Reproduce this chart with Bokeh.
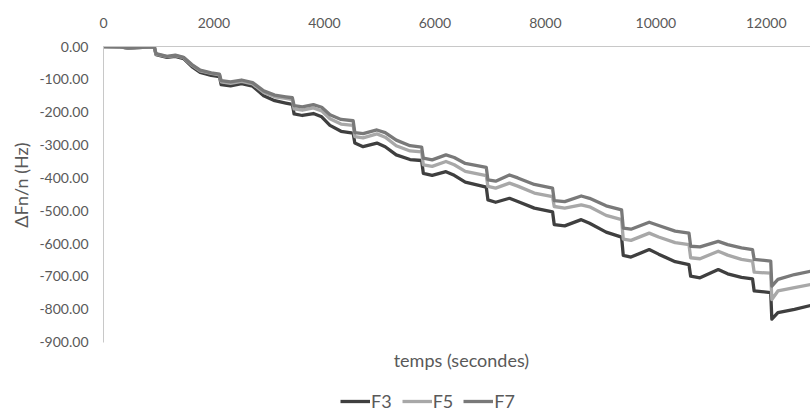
from bokeh.plotting import figure
from bokeh.models import (ColumnDataSource, FixedTicker, NumeralTickFormatter,
                          Legend, LegendItem, Range1d, Label, Title)
from bokeh.embed import file_html
from bokeh.resources import INLINE

# time in seconds
t = [0, 300, 450, 600, 920, 950, 1150, 1300, 1450, 1600, 1750, 1950, 2100, 2130,
     2300, 2500, 2700, 2900, 3100, 3300, 3420, 3450, 3600, 3800, 3950, 4100, 4300,
     4520, 4550, 4700, 4950, 5100, 5300, 5550, 5760, 5790, 5950, 6200, 6350, 6550,
     6930, 6960, 7100, 7350, 7500, 7800, 8130, 8160, 8350, 8650, 8800, 9100, 9380,
     9410, 9550, 9880, 10050, 10350, 10600, 10630, 10800, 11130, 11300, 11550,
     11750, 11780, 12080, 12100, 12210, 12510, 12810]

f7 = [0, -1, -5, -3, -1, -22, -30, -26, -33, -55, -72, -80, -84, -104,
      -108, -102, -110, -135, -148, -153, -156, -180, -184, -177, -185, -208, -222,
      -226, -262, -265, -254, -262, -285, -302, -306, -340, -345, -330, -338, -356,
      -368, -406, -410, -391, -400, -420, -431, -469, -472, -455, -462, -485, -497,
      -553, -556, -535, -545, -562, -568, -608, -610, -593, -603, -613,
      -618, -648, -653, -729, -709, -694, -684]

f5 = [0, -1, -5, -3, -1, -23, -31, -28, -34, -57, -74, -82, -86, -108,
      -112, -106, -114, -140, -153, -158, -162, -190, -194, -187, -196, -220, -236,
      -240, -274, -278, -266, -276, -302, -318, -321, -360, -365, -350, -360, -380,
      -393, -426, -431, -416, -425, -446, -457, -487, -492, -482, -488, -514, -527,
      -586, -590, -568, -580, -597, -603, -643, -646, -623, -635, -648,
      -653, -687, -690, -770, -744, -734, -724]

f3 = [0, -1, -5, -3, -1, -25, -33, -30, -37, -61, -79, -88, -92, -116,
      -120, -113, -121, -150, -165, -172, -176, -205, -210, -204, -214, -240, -258,
      -264, -294, -305, -294, -305, -330, -344, -347, -386, -392, -381, -392, -413,
      -428, -467, -474, -462, -472, -492, -503, -542, -546, -527, -538, -565, -580,
      -636, -641, -618, -632, -655, -664, -699, -704, -679, -692, -703,
      -707, -744, -749, -830, -810, -800, -788]

series_names = ["F3", "F5", "F7"]
series_colors = ["#3F3F3F", "#A8A8A8", "#797979"]
x_ticks = [0, 2000, 4000, 6000, 8000, 10000, 12000]
y_ticks = [0, -100, -200, -300, -400, -500, -600, -700, -800, -900]
x_title = "temps (secondes)"
y_title = "ΔFn/n (Hz)"

FONT = "Lato"
TXT = "#595959"
AX = "#C8C8C8"

# frame runs to the bottom of the figure; the axis line is limited to 0..-900
p = figure(width=810, height=412, output_backend="svg", toolbar_location=None,
           x_axis_location="above",
           x_range=Range1d(0, 12800), y_range=Range1d(-1114, 0),
           min_border_left=103, min_border_right=0, min_border_top=46,
           min_border_bottom=0)
p.outline_line_color = None
p.grid.visible = False
p.background_fill_color = "white"
p.border_fill_color = "white"

src = ColumnDataSource(dict(t=t, F3=f3, F5=f5, F7=f7))
renderers = []
for name, col in zip(series_names, series_colors):
    r = p.line("t", name, source=src, line_color=col, line_width=3.3,
               line_join="round")
    renderers.append(r)

xa = p.xaxis[0]
xa.ticker = FixedTicker(ticks=x_ticks)
xa.major_tick_line_color = None
xa.minor_tick_line_color = None
xa.major_tick_out = 0
xa.major_tick_in = 0
xa.axis_line_color = AX
xa.major_label_standoff = 19
xa.major_label_text_font = FONT
xa.major_label_text_font_size = "14px"
xa.major_label_text_color = TXT

ya = p.yaxis[0]
ya.bounds = (-900, 0)
ya.ticker = FixedTicker(ticks=y_ticks)
ya.formatter = NumeralTickFormatter(format="0.00")
ya.major_tick_line_color = None
ya.minor_tick_line_color = None
ya.major_tick_out = 0
ya.major_tick_in = 0
ya.axis_line_color = AX
ya.major_label_standoff = 15
ya.major_label_text_font = FONT
ya.major_label_text_font_size = "14px"
ya.major_label_text_color = TXT

# y-axis title, centred on the 0..-900 part of the axis
p.add_layout(Title(text=y_title, align="right", offset=96,
                   text_font=FONT, text_font_size="18px",
                   text_font_style="normal", text_color=TXT,
                   standoff=10), "left")

# x-axis title below the plotted area (the axis itself is on top)
p.add_layout(Label(x=6480, y=-953, text=x_title, text_align="center",
                   text_baseline="middle", text_font=FONT,
                   text_font_size="18px", text_color=TXT))

legend = Legend(items=[LegendItem(label=n, renderers=[r])
                       for n, r in zip(series_names, renderers)],
                orientation="horizontal", location=(237, 0),
                label_text_font=FONT, label_text_font_size="18px",
                label_text_color=TXT, glyph_width=30, glyph_height=18,
                label_height=18, label_standoff=1, spacing=10,
                padding=0, margin=0, border_line_color=None,
                background_fill_alpha=0)
p.add_layout(legend, "center")

open("out.html", "w").write(file_html(p, INLINE))
